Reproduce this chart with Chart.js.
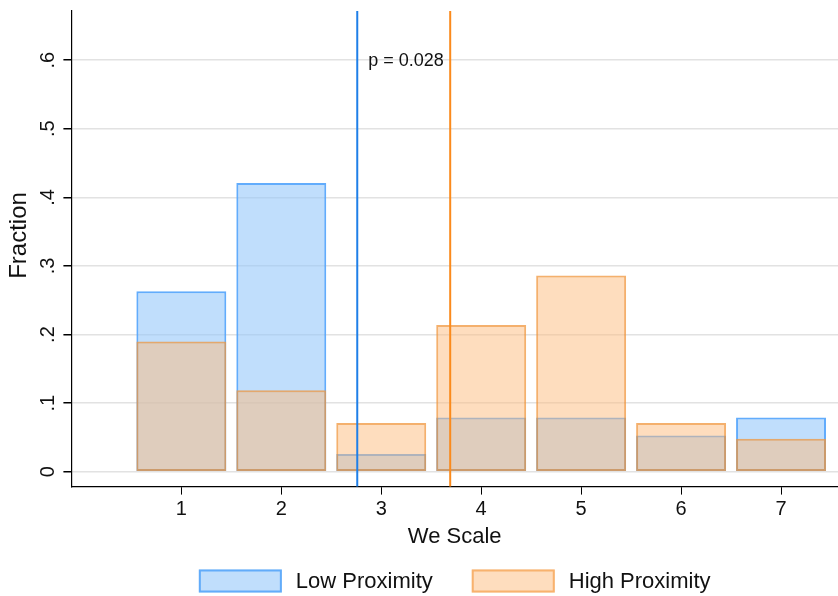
<!DOCTYPE html>
<html>
<head>
<meta charset="utf-8">
<script src="https://cdn.jsdelivr.net/npm/chart.js@4/dist/chart.umd.min.js"></script>
<style>
  body { margin: 0; background: #fff; }
  #wrap { width: 838px; height: 596px; }
</style>
</head>
<body>
<div id="wrap"><canvas id="weChart" width="838" height="596"></canvas></div>
<script>
// values
var xValues = [1, 2, 3, 4, 5, 6, 7];
var lowProximity = [0.263, 0.421, 0.026, 0.079, 0.079, 0.053, 0.079];
var highProximity = [0.190, 0.119, 0.071, 0.214, 0.286, 0.071, 0.048];
var meanLines = [2.76, 3.69];
var meanColors = ['#1f7fe8', '#fb8a1c'];
var yTickValues = [0, 0.1, 0.2, 0.3, 0.4, 0.5, 0.6];
var yTickLabels = ['0', '.1', '.2', '.3', '.4', '.5', '.6'];
var pLabel = 'p = 0.028';
var pLabelY = 0.6;

var FONT = '"Liberation Sans", Arial, Helvetica, sans-serif';
Chart.defaults.font.family = FONT;
Chart.defaults.color = '#111';

function toPoints(vals) {
    return xValues.map(function(x, i) { return {x: x, y: vals[i]}; });
}

// mean lines and p value text
var meanLinePlugin = {
    id: 'meanLines',
    afterDatasetsDraw(chart) {
        var ctx = chart.ctx;
        var xs = chart.scales.x, ys = chart.scales.y;
        var area = chart.chartArea;
        ctx.save();
        meanLines.forEach(function(m, i) {
            var px = xs.getPixelForValue(m);
            ctx.strokeStyle = meanColors[i];
            ctx.lineWidth = 2;
            ctx.beginPath();
            ctx.moveTo(px, area.top);
            ctx.lineTo(px, area.bottom);
            ctx.stroke();
        });
        ctx.fillStyle = '#111';
        ctx.font = '18px ' + FONT;
        ctx.textAlign = 'left';
        ctx.textBaseline = 'middle';
        ctx.fillText(pLabel, xs.getPixelForValue(meanLines[0] + 0.11), ys.getPixelForValue(pLabelY) + 1);
        ctx.restore();
    }
};

// legend centred under the plot area
var legendPlugin = {
    id: 'plotLegend',
    afterDraw(chart) {
        var ctx = chart.ctx;
        var area = chart.chartArea;
        var boxW = 83, boxH = 23, gap = 14, spacing = 39, yMid = 581;
        ctx.save();
        ctx.font = '22px ' + FONT;
        var items = chart.data.datasets.map(function(ds) {
            return {ds: ds, w: ctx.measureText(ds.label).width};
        });
        var total = spacing * (items.length - 1);
        items.forEach(function(it) { total += boxW + gap + it.w; });
        var x = (area.left + area.right) / 2 - total / 2;
        items.forEach(function(it) {
            ctx.fillStyle = it.ds.backgroundColor;
            ctx.fillRect(x, yMid - boxH / 2, boxW, boxH);
            ctx.strokeStyle = it.ds.legendBorder;
            ctx.lineWidth = 2;
            ctx.strokeRect(x + 1, yMid - boxH / 2 + 1, boxW - 2, boxH - 2);
            ctx.fillStyle = '#111';
            ctx.textAlign = 'left';
            ctx.textBaseline = 'middle';
            ctx.fillText(it.ds.label, x + boxW + gap, yMid + 1);
            x += boxW + gap + it.w + spacing;
        });
        ctx.restore();
    }
};

var ctx = document.getElementById('weChart').getContext('2d');
var weChart = new Chart(ctx, {
    type: 'bar',
    data: {
        datasets: [{
            label: 'Low Proximity',
            data: toPoints(lowProximity),
            backgroundColor: 'rgba(150,200,250,0.6)',
            borderColor: 'rgba(90,168,252,0.95)',
            legendBorder: '#62acfa',
            borderWidth: 2,
            borderSkipped: false,
            order: 1
        }, {
            label: 'High Proximity',
            data: toPoints(highProximity),
            backgroundColor: 'rgba(253,187,125,0.5)',
            borderColor: 'rgba(240,150,60,0.75)',
            legendBorder: '#f8b26e',
            borderWidth: 2,
            borderSkipped: false,
            order: 0
        }]
    },
    options: {
        responsive: false,
        animation: false,
        devicePixelRatio: 1,
        grouped: false,
        categoryPercentage: 0.9,
        barPercentage: 1.0,
        layout: {
            padding: {top: 11, right: 0, bottom: 44, left: 2}
        },
        plugins: {
            legend: {display: false},
            tooltip: {enabled: false}
        },
        scales: {
            x: {
                type: 'linear',
                min: -0.1,
                max: 7.57,
                offset: false,
                afterBuildTicks: function(axis) {
                    axis.ticks = xValues.map(function(v) { return {value: v}; });
                },
                ticks: {
                    font: {size: 20},
                    padding: 3,
                    callback: function(v) { return String(v); }
                },
                grid: {
                    drawOnChartArea: false,
                    drawTicks: true,
                    tickLength: 8,
                    tickColor: '#000',
                    offset: false
                },
                border: {display: true, color: '#000', width: 1.2},
                title: {
                    display: true,
                    text: 'We Scale',
                    font: {size: 22},
                    padding: {top: -1, bottom: 2}
                }
            },
            y: {
                min: -0.0216,
                max: 0.6716,
                afterBuildTicks: function(axis) {
                    axis.ticks = yTickValues.map(function(v) { return {value: v}; });
                },
                // the rotated labels sit well inside the range, no end padding needed
                afterFit: function(axis) {
                    axis.paddingTop = 0;
                    axis.paddingBottom = 0;
                },
                ticks: {
                    font: {size: 20},
                    minRotation: 90,
                    maxRotation: 90,
                    crossAlign: 'center',
                    padding: 7,
                    callback: function(v, i) { return yTickLabels[i]; }
                },
                grid: {
                    color: '#e2e2e2',
                    lineWidth: 1.5,
                    tickColor: '#000',
                    tickLength: 8
                },
                border: {display: true, color: '#000', width: 1.2},
                title: {
                    display: true,
                    // leading spaces lift the word a little, as in the original
                    text: '    Fraction',
                    font: {size: 24},
                    padding: {top: 2.6, bottom: -8}
                }
            }
        }
    },
    plugins: [meanLinePlugin, legendPlugin]
});
</script>
</body>
</html>
